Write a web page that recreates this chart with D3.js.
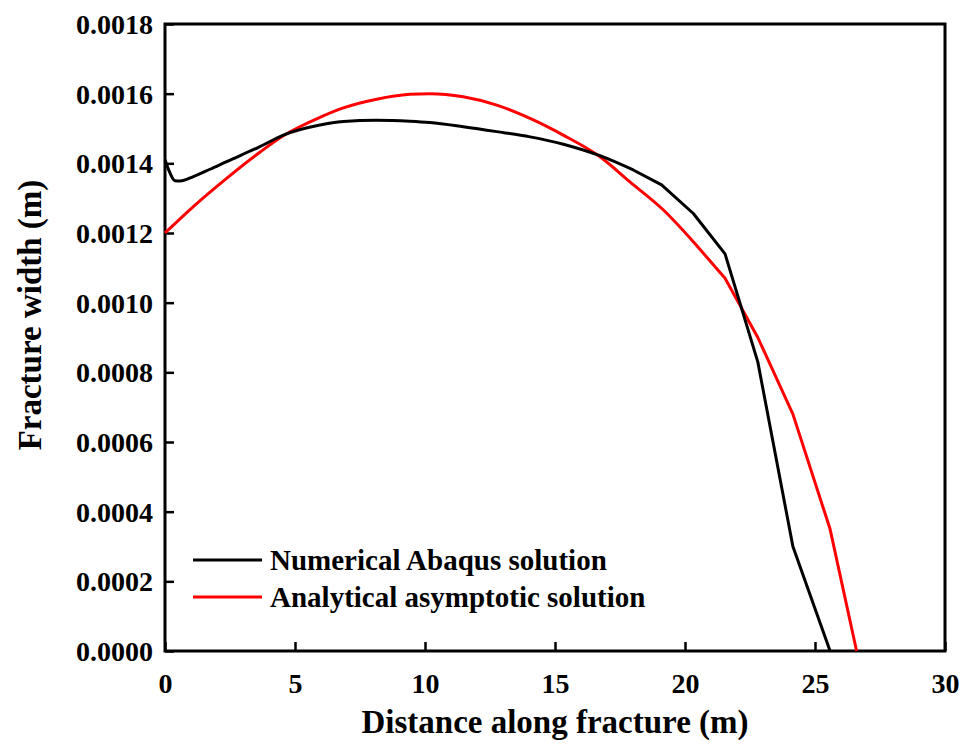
<!DOCTYPE html>
<html>
<head>
    <meta charset="utf-8" />
    <title>Fracture width</title>
    <script src="https://cdn.jsdelivr.net/npm/d3@7"></script>
    <style>
        body { margin: 0; background: #fff; }
        text { font-family: "Liberation Serif", "Times New Roman", serif; font-weight: bold; }
    </style>
</head>
<body>
<script>
    // Numerical Abaqus solution
    var numX = [0, 0.17, 0.38, 0.58, 1.09, 1.73, 2.37, 3.65, 4.55, 5.96, 6.86, 8.14, 9.42, 10.19, 11.47, 12.76, 14.04, 15.32, 16.73, 18.01, 19.1, 20.32, 21.54, 22.8, 24.15, 25.58];
    var numW = [0.00141, 0.001376, 0.00135, 0.001349, 0.001362, 0.001383, 0.001405, 0.001448, 0.001481, 0.00151, 0.00152, 0.001524, 0.001521, 0.001517, 0.001505, 0.001491, 0.001476, 0.001455, 0.001422, 0.001381, 0.001338, 0.001256, 0.00114, 0.00083, 0.0003, 0];

    // Analytical asymptotic solution
    var anaX = [0, 1.09, 2.37, 3.65, 4.55, 5.96, 6.86, 8.14, 9.42, 10.19, 11.47, 12.76, 14.04, 15.32, 16.73, 17.88, 19.17, 20.38, 21.54, 22.8, 24.15, 25.58, 26.6];
    var anaW = [0.0012, 0.001276, 0.001357, 0.001432, 0.001479, 0.001532, 0.001559, 0.001584, 0.001598, 0.0016, 0.001591, 0.001567, 0.001529, 0.001481, 0.001419, 0.001347, 0.001266, 0.00117, 0.00107, 0.0009, 0.00068, 0.00035, 0];

    // where each curve stops being smooth and turns into straight segments
    var numSmoothEnd = 18.01;
    var anaSmoothEnd = 20.38;

    var xTicks = [0, 5, 10, 15, 20, 25, 30];
    var yTicks = [0, 0.0002, 0.0004, 0.0006, 0.0008, 0.0010, 0.0012, 0.0014, 0.0016, 0.0018];

    var w = 971, h = 744;
    var pLeft = 165, pRight = 945, pTop = 24, pBottom = 651;

    var xScale = d3.scaleLinear().domain([0, 30]).range([pLeft, pRight]);
    var yScale = d3.scaleLinear().domain([0, 0.0018]).range([pBottom, pTop]);

    var svg = d3.select("body").append("svg")
        .attr("width", w)
        .attr("height", h);

    // Bottom axis, ticks inward
    var xAxis = d3.axisBottom(xScale)
        .tickValues(xTicks)
        .tickSizeInner(-9)
        .tickSizeOuter(0)
        .tickPadding(22)
        .tickFormat(d3.format("d"));

    var gx = svg.append("g")
        .attr("transform", "translate(0," + pBottom + ")")
        .call(xAxis);

    var yAxis = d3.axisLeft(yScale)
        .tickValues(yTicks)
        .tickSizeInner(-9)
        .tickSizeOuter(0)
        .tickPadding(12)
        .tickFormat(d3.format(".4f"));

    var gy = svg.append("g")
        .attr("transform", "translate(" + pLeft + ",0)")
        .call(yAxis);

    [gx, gy].forEach(function (g) {
        g.select(".domain").remove();
        g.selectAll(".tick line").attr("stroke", "#000").attr("stroke-width", 2.5);
        g.selectAll(".tick text")
            .attr("fill", "#000")
            .attr("font-size", "28px")
            .attr("font-family", "Liberation Serif, serif")
            .attr("font-weight", "bold");
    });
    gy.selectAll(".tick text").attr("dy", "0.34em");

    // Frame
    svg.append("rect")
        .attr("x", pLeft)
        .attr("y", pTop)
        .attr("width", pRight - pLeft)
        .attr("height", pBottom - pTop)
        .attr("fill", "none")
        .attr("stroke", "#000")
        .attr("stroke-width", 3);

    var smoothLine = d3.line()
        .curve(d3.curveMonotoneX)
        .x(function (d) { return xScale(d[0]); })
        .y(function (d) { return yScale(d[1]); });

    var straightLine = d3.line()
        .x(function (d) { return xScale(d[0]); })
        .y(function (d) { return yScale(d[1]); });

    function drawSeries(xs, ys, splitX, color) {
        var data = xs.map(function (x, i) { return [x, ys[i]]; });
        var head = data.filter(function (d) { return d[0] <= splitX; });
        var tail = data.filter(function (d) { return d[0] >= splitX; });
        svg.append("path")
            .attr("d", smoothLine(head) + straightLine(tail).replace(/^M/, "L"))
            .attr("fill", "none")
            .attr("stroke", color)
            .attr("stroke-width", 3)
            .attr("stroke-linejoin", "round");
    }

    drawSeries(anaX, anaW, anaSmoothEnd, "#ff0000");
    drawSeries(numX, numW, numSmoothEnd, "#000");

    // Legend
    var legend = [
        { label: "Numerical Abaqus solution", color: "#000", y: 560 },
        { label: "Analytical asymptotic solution", color: "#ff0000", y: 597 }
    ];
    legend.forEach(function (d) {
        svg.append("line")
            .attr("x1", 193).attr("x2", 262)
            .attr("y1", d.y).attr("y2", d.y)
            .attr("stroke", d.color)
            .attr("stroke-width", 3);
        svg.append("text")
            .attr("x", 270)
            .attr("y", d.y + 10)
            .attr("font-size", "29px")
            .attr("fill", "#000")
            .text(d.label);
    });

    // Axis titles
    svg.append("text")
        .attr("x", (pLeft + pRight) / 2)
        .attr("y", 733)
        .attr("text-anchor", "middle")
        .attr("font-size", "33px")
        .text("Distance along fracture (m)");

    svg.append("text")
        .attr("transform", "translate(41,315) rotate(-90)")
        .attr("text-anchor", "middle")
        .attr("font-size", "33px")
        .text("Fracture width (m)");
</script>
</body>
</html>
